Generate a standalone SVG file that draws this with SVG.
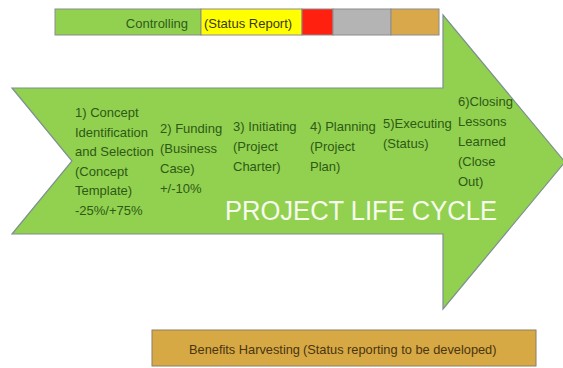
<svg xmlns="http://www.w3.org/2000/svg" width="563" height="368" viewBox="0 0 563 368">
  <style>
    .lbl { font-family: "Liberation Sans", Arial, sans-serif; font-size: 13px; fill: #2d5a14; }
    .bar { stroke: #8c8c8c; stroke-width: 1; }
    .title { font-family: "Liberation Sans", Arial, sans-serif; font-size: 27px; fill: #f6fbee; }
  </style>
  <rect width="563" height="368" fill="#ffffff"/>

  <!-- Controlling bar across the top -->
  <g id="controlling">
    <rect class="bar" x="55" y="9" width="146" height="26" fill="#92d050"/>
    <rect class="bar" x="201" y="9" width="101" height="26" fill="#ffff00"/>
    <rect class="bar" x="302" y="9" width="31" height="26" fill="#ff2010"/>
    <rect class="bar" x="333" y="9" width="58" height="26" fill="#b4b4b4"/>
    <rect class="bar" x="391" y="9" width="48" height="26" fill="#d9a84a"/>
    <text x="188" y="28" text-anchor="end" font-family="Liberation Sans, Arial, sans-serif" font-size="13" fill="#2e5d19">Controlling</text>
    <text x="204" y="28" font-family="Liberation Sans, Arial, sans-serif" font-size="13" fill="#3a3a10">(Status Report)</text>
  </g>

  <!-- Life cycle arrow -->
  <g id="lifecycle">
    <path d="M12,88 L443,88 L443,15 L565,162 L443,309 L443,234 L12,234 L72,161 Z" fill="#92d050" stroke="#7d9090" stroke-width="1.2"/>
    <text class="title" x="225" y="220" textLength="272" lengthAdjust="spacingAndGlyphs">PROJECT LIFE CYCLE</text>
  </g>

  <g id="phase1">
    <text class="lbl">
      <tspan x="75" y="117">1) Concept</tspan>
      <tspan x="75" y="136.5">Identification</tspan>
      <tspan x="75" y="156">and Selection</tspan>
      <tspan x="75" y="175.5">(Concept</tspan>
      <tspan x="75" y="195">Template)</tspan>
      <tspan x="75" y="214.5">-25%/+75%</tspan>
    </text>
  </g>
  <g id="phase2">
    <text class="lbl">
      <tspan x="160" y="133">2) Funding</tspan>
      <tspan x="160" y="153">(Business</tspan>
      <tspan x="160" y="173">Case)</tspan>
      <tspan x="160" y="193">+/-10%</tspan>
    </text>
  </g>
  <g id="phase3">
    <text class="lbl">
      <tspan x="233" y="131">3) Initiating</tspan>
      <tspan x="233" y="151">(Project</tspan>
      <tspan x="233" y="171">Charter)</tspan>
    </text>
  </g>
  <g id="phase4">
    <text class="lbl">
      <tspan x="310" y="131">4) Planning</tspan>
      <tspan x="310" y="151">(Project</tspan>
      <tspan x="310" y="171">Plan)</tspan>
    </text>
  </g>
  <g id="phase5">
    <text class="lbl">
      <tspan x="383" y="128">5)Executing</tspan>
      <tspan x="383" y="148">(Status)</tspan>
    </text>
  </g>
  <g id="phase6">
    <text class="lbl">
      <tspan x="458" y="106">6)Closing</tspan>
      <tspan x="458" y="126">Lessons</tspan>
      <tspan x="458" y="146">Learned</tspan>
      <tspan x="458" y="166">(Close</tspan>
      <tspan x="458" y="186">Out)</tspan>
    </text>
  </g>

  <!-- Benefits harvesting bar along the bottom -->
  <g id="benefits">
    <rect x="152" y="330" width="384" height="36" fill="#d6a945" stroke="#8a7f66" stroke-width="1"/>
    <text x="189" y="354" font-family="Liberation Sans, Arial, sans-serif" font-size="12.8" fill="#4a3510">Benefits Harvesting</text>
    <text x="303" y="354" font-family="Liberation Sans, Arial, sans-serif" font-size="12.8" fill="#4a3510">(Status reporting to be developed)</text>
  </g>

  <g id="connectors"/>
</svg>
